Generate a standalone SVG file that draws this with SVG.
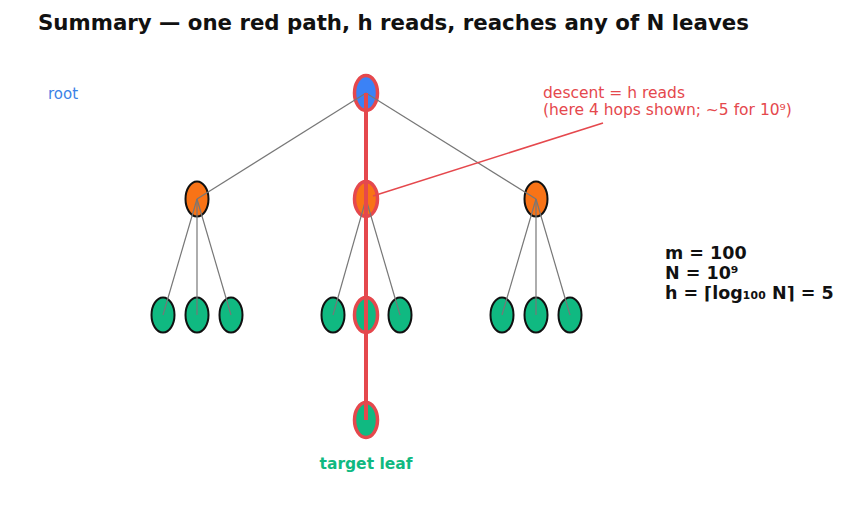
<svg xmlns="http://www.w3.org/2000/svg" width="848" height="508" viewBox="0 0 848 508">
<style>
text{font-family:"DejaVu Sans","Liberation Sans",sans-serif}
.edge{stroke:#777;stroke-width:1.2;fill:none}
.path{stroke:#e5484d;stroke-width:4;fill:none}
.n{stroke:#111;stroke-width:2}
.on{stroke:#e5484d;stroke-width:3.5}
.blue{fill:#3b82f6}.orange{fill:#f97316}.green{fill:#10b981}
</style>
<rect width="848" height="508" fill="#fff"/>
<text x="38" y="30" font-size="21.3" font-weight="bold" fill="#111">Summary — one red path, h reads, reaches any of N leaves</text>
<g id="nodes">
<g id="root"><ellipse cx="366" cy="93" rx="11.5" ry="17.5" class="blue on"/></g>
<g id="l1a"><ellipse cx="197" cy="199" rx="11.5" ry="17.5" class="orange n"/></g>
<g id="l1b"><ellipse cx="366" cy="199" rx="11.5" ry="17.5" class="orange on"/></g>
<g id="l1c"><ellipse cx="536" cy="199" rx="11.5" ry="17.5" class="orange n"/></g>
<g id="l2a1"><ellipse cx="163" cy="315" rx="11.5" ry="17.5" class="green n"/></g>
<g id="l2a2"><ellipse cx="197" cy="315" rx="11.5" ry="17.5" class="green n"/></g>
<g id="l2a3"><ellipse cx="231" cy="315" rx="11.5" ry="17.5" class="green n"/></g>
<g id="l2b1"><ellipse cx="333" cy="315" rx="11.5" ry="17.5" class="green n"/></g>
<g id="l2b2"><ellipse cx="366" cy="315" rx="11.5" ry="17.5" class="green on"/></g>
<g id="l2b3"><ellipse cx="400" cy="315" rx="11.5" ry="17.5" class="green n"/></g>
<g id="l2c1"><ellipse cx="502" cy="315" rx="11.5" ry="17.5" class="green n"/></g>
<g id="l2c2"><ellipse cx="536" cy="315" rx="11.5" ry="17.5" class="green n"/></g>
<g id="l2c3"><ellipse cx="570" cy="315" rx="11.5" ry="17.5" class="green n"/></g>
<g id="target"><ellipse cx="366" cy="420" rx="11.5" ry="17.5" class="green on"/></g>
</g>
<g id="connectors">
<line class="edge" x1="366" y1="93" x2="197" y2="199"/>
<line class="edge" x1="366" y1="93" x2="536" y2="199"/>
<line class="edge" x1="197" y1="199" x2="163" y2="315"/>
<line class="edge" x1="197" y1="199" x2="197" y2="315"/>
<line class="edge" x1="197" y1="199" x2="231" y2="315"/>
<line class="edge" x1="366" y1="199" x2="333" y2="315"/>
<line class="edge" x1="366" y1="199" x2="400" y2="315"/>
<line class="edge" x1="536" y1="199" x2="502" y2="315"/>
<line class="edge" x1="536" y1="199" x2="536" y2="315"/>
<line class="edge" x1="536" y1="199" x2="570" y2="315"/>
<line class="path" x1="366" y1="93" x2="366" y2="420"/>
<line x1="603" y1="123" x2="373" y2="196" stroke="#e5484d" stroke-width="1.5"/>
</g>
<text x="48" y="99" font-size="15" fill="#3b82e6">root</text>
<text x="543" y="98" font-size="15.5" fill="#e5484d">descent = h reads</text>
<text x="543" y="115" font-size="15.5" fill="#e5484d">(here 4 hops shown; ~5 for 10⁹)</text>
<text x="665" y="259" font-size="17.5" font-weight="bold" fill="#111">m = 100</text>
<text x="665" y="279" font-size="17.5" font-weight="bold" fill="#111">N = 10⁹</text>
<text x="665" y="299" font-size="17.5" font-weight="bold" fill="#111">h = ⌈log₁₀₀ N⌉ = 5</text>
<text x="366" y="469" font-size="15.5" font-weight="bold" fill="#10b981" text-anchor="middle">target leaf</text>
</svg>
